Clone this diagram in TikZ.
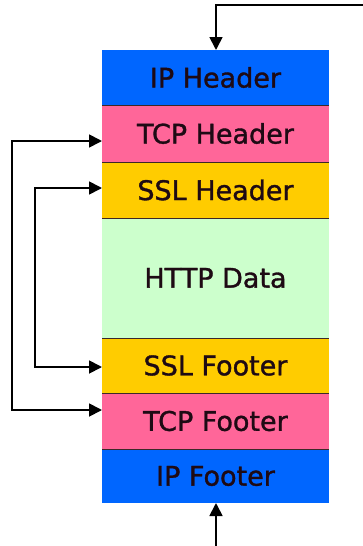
\documentclass[tikz,border=0pt]{standalone}
\usepackage{fontspec}
\setmainfont{DejaVu Sans}
\newfontfamily\labelfont{DejaVu Sans}[BoldFont=DejaVu Sans,BoldFeatures={FakeBold=1.2}]
\usetikzlibrary{arrows.meta}
\definecolor{ipblue}{RGB}{0,102,255}
\definecolor{tcppink}{RGB}{255,102,153}
\definecolor{sslyellow}{RGB}{255,204,0}
\definecolor{datagreen}{RGB}{204,255,204}
\definecolor{sepline}{RGB}{60,40,40}
\definecolor{labeltext}{RGB}{30,10,20}
\begin{document}
\begin{tikzpicture}[x=1pt,y=-1pt,
  layer/.style={minimum width=227pt,inner sep=0pt,outer sep=0pt,anchor=north west,
    font=\labelfont\bfseries\fontsize{27}{30}\selectfont,text=labeltext},
  tip/.tip={Triangle[length=13pt,width=13pt]},
  link/.style={line width=1.8pt,-tip},
  pair/.style={line width=1.8pt,tip-tip}]
\useasboundingbox[fill=white] (0,0) rectangle (363,546);
% protocol layers, top to bottom
\node[layer,fill=ipblue,minimum height=55pt] (iph) at (102,50) {IP Header};
\node[layer,fill=tcppink,minimum height=57pt] (tcph) at (102,105) {TCP Header};
\node[layer,fill=sslyellow,minimum height=56pt] (sslh) at (102,162) {SSL Header};
\node[layer,fill=datagreen,minimum height=120pt] (data) at (102,218) {HTTP Data};
\node[layer,fill=sslyellow,minimum height=55pt] (sslf) at (102,338) {SSL Footer};
\node[layer,fill=tcppink,minimum height=56pt] (tcpf) at (102,393) {TCP Footer};
\node[layer,fill=ipblue,minimum height=54pt] (ipf) at (102,449) {IP Footer};
% separators between layers
\foreach \a in {tcph,sslh,data,sslf,tcpf,ipf}
  \draw[sepline,line width=0.9pt] (\a.north west) -- (\a.north east);
% incoming/outgoing ends
\coordinate (topin) at (363,5);
\coordinate (botin) at (216,546);
\draw[link] (topin) -| (iph.north -| 216,0);
\draw[link] (botin) -- (ipf.south -| 216,0);
% header-to-footer pairing
\draw[pair] (tcph.west |- 0,141) -- (12,141) -- (12,410) -- (tcpf.west |- 0,410);
\draw[pair] (sslh.west |- 0,188) -- (35,188) -- (35,367) -- (sslf.west |- 0,367);
\end{tikzpicture}
\end{document}
